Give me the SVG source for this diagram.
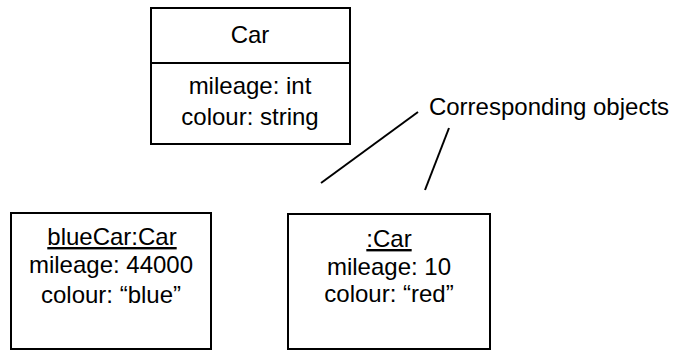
<svg xmlns="http://www.w3.org/2000/svg" width="679" height="351" viewBox="0 0 679 351">
<style>
.box{fill:#fff;stroke:#000;stroke-width:2}
.t{font-family:"Liberation Sans",Arial,sans-serif;font-size:24px;fill:#000;text-anchor:middle}
.u{text-decoration:underline}
.c{stroke:#000;stroke-width:2;fill:none}
</style>
<rect width="679" height="351" fill="#fff"/>
<g id="class-car">
<rect class="box" x="151" y="8" width="199" height="136"/>
<line class="c" x1="151" y1="63" x2="350" y2="63"/>
<text class="t" x="250" y="43">Car</text>
<text class="t" x="250" y="94">mileage: int</text>
<text class="t" x="250" y="125">colour: string</text>
</g>
<g id="obj-bluecar">
<rect class="box" x="11" y="213" width="200" height="136"/>
<text class="t u" x="112" y="245">blueCar:Car</text>
<text class="t" x="111" y="273">mileage: 44000</text>
<text class="t" x="111" y="303">colour: “blue”</text>
</g>
<g id="obj-car">
<rect class="box" x="288" y="214" width="202" height="135"/>
<text class="t u" x="389" y="247">:Car</text>
<text class="t" x="389" y="275">mileage: 10</text>
<text class="t" x="389" y="302">colour: “red”</text>
</g>
<g id="note">
<text class="t" x="549" y="115">Corresponding objects</text>
</g>
<g id="connectors">
<line class="c" x1="418" y1="112" x2="321" y2="183"/>
<line class="c" x1="449" y1="128" x2="425" y2="190"/>
</g>
</svg>
